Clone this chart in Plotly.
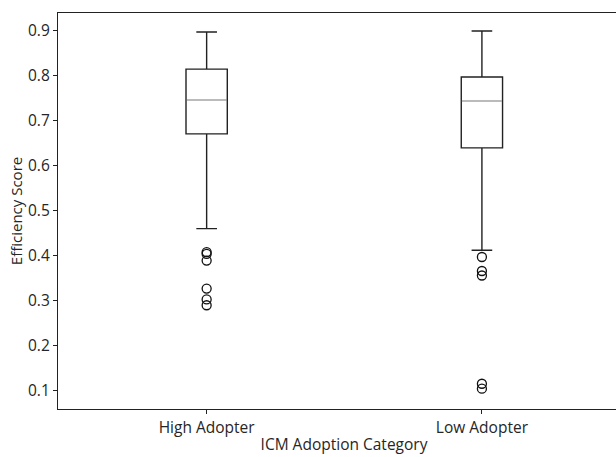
import plotly.graph_objects as go

categories = ["High Adopter", "Low Adopter"]
positions = [1, 2]
q1 = [0.670, 0.639]
median = [0.745, 0.743]
q3 = [0.8135, 0.796]
lower_whisker = [0.460, 0.412]
upper_whisker = [0.896, 0.898]
outliers_high = [0.408, 0.404, 0.389, 0.327, 0.303, 0.290]
outliers_low = [0.397, 0.366, 0.356, 0.116, 0.105]
outliers = [outliers_high, outliers_low]

FONT = "Open Sans, Noto Sans, sans-serif"
BW = 0.15

fig = go.Figure()
for i, cat in enumerate(categories):
    fig.add_trace(go.Box(
        x=[positions[i]], q1=[q1[i]], median=[median[i]], q3=[q3[i]],
        lowerfence=[lower_whisker[i]], upperfence=[upper_whisker[i]],
        width=BW, whiskerwidth=0.5, fillcolor="white",
        line=dict(color="#222222", width=1.4), boxpoints=False,
        name=cat, showlegend=False, hoverinfo="skip",
    ))
    fig.add_trace(go.Scatter(
        x=[positions[i] - BW / 2 * 0.97, positions[i] + BW / 2 * 0.97],
        y=[median[i], median[i]], mode="lines",
        line=dict(color="#dddddd", width=1.6), showlegend=False, hoverinfo="skip",
    ))
    fig.add_trace(go.Scatter(
        x=[positions[i]] * len(outliers[i]), y=outliers[i], mode="markers",
        marker=dict(symbol="circle-open", size=9, color="#111111", line=dict(width=1.3)),
        showlegend=False, hoverinfo="skip",
    ))

fig.update_layout(
    width=630, height=457,
    margin=dict(l=58, r=0, t=13, b=48, autoexpand=False),
    plot_bgcolor="white", paper_bgcolor="white",
    font=dict(family=FONT, size=15, color="#262626"),
    xaxis=dict(
        range=[0.460, 2.538], tickvals=positions, ticktext=categories,
        showline=True, linecolor="#222222", linewidth=1.2, mirror=True,
        ticks="outside", ticklen=4, tickcolor="#222222", showgrid=False, zeroline=False,
        title=dict(text="ICM Adoption Category", font=dict(size=15.5), standoff=2),
        tickfont=dict(size=15.5), automargin=False,
    ),
    yaxis=dict(
        range=[0.060, 0.938], tickvals=[0.1, 0.2, 0.3, 0.4, 0.5, 0.6, 0.7, 0.8, 0.9],
        ticktext=["0.1", "0.2", "0.3", "0.4", "0.5", "0.6", "0.7", "0.8", "0.9"],
        showline=True, linecolor="#222222", linewidth=1.2, mirror=False,
        ticks="outside", ticklen=4, tickcolor="#222222", showgrid=False, zeroline=False,
        title=dict(text="Efficiency Score", font=dict(size=15), standoff=1),
        tickfont=dict(size=15.5), automargin=False,
    ),
)

fig.write_html(
    "out.html",
    config={"displayModeBar": False},
    post_script="document.body.style.margin='0';document.body.style.overflow='hidden';",
)
